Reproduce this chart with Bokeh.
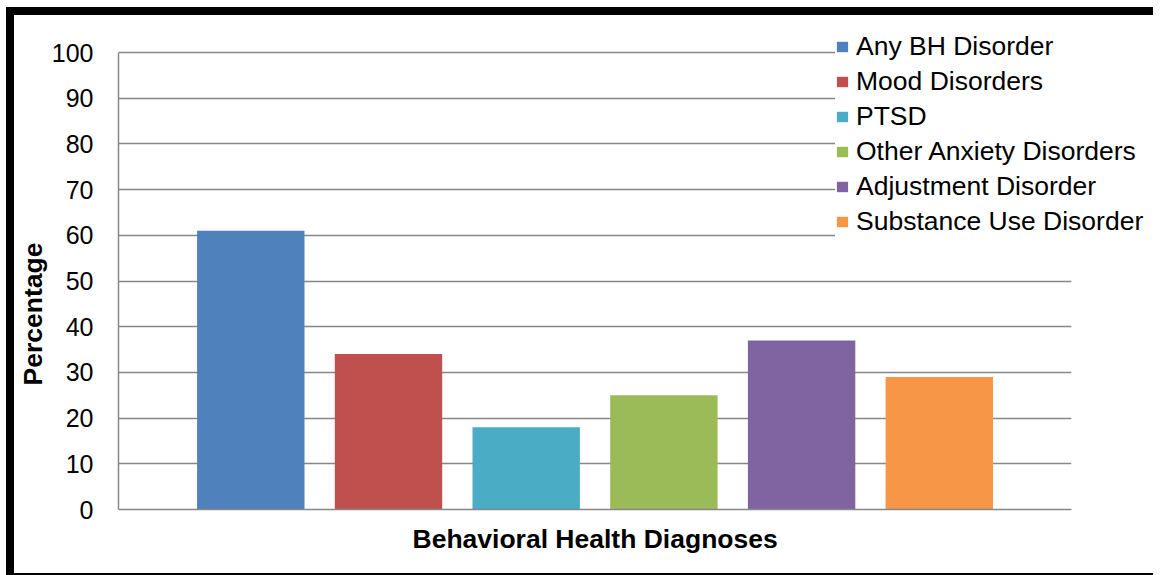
from bokeh.plotting import figure
from bokeh.models import (ColumnDataSource, Range1d, FixedTicker, Legend, LegendItem,
                          BoxAnnotation, Title)
from bokeh.embed import file_html
from bokeh.resources import INLINE

series = ["Any BH Disorder", "Mood Disorders", "PTSD", "Other Anxiety Disorders",
          "Adjustment Disorder", "Substance Use Disorder"]
values = [61, 34, 18, 25, 37, 29]
colors = ["#4F81BD", "#C0504D", "#4BACC6", "#9BBB59", "#8064A2", "#F79646"]
y_ticks = [0, 10, 20, 30, 40, 50, 60, 70, 80, 90, 100]
x_title = "Behavioral Health Diagnoses"
y_title = "Percentage"

FONT = "Liberation Sans"
GRAY = "#878787"

# layout (pixels, in picture coordinates)
OX, OY = 14, 15            # canvas origin
W, H = 1147, 568
FR_L, FR_R, FR_T, FR_B = 118, 1158, 15, 509
Y100 = 52                  # pixel row of the 100 gridline
X0, PX_X = 250.3, 137.7    # first bar centre and px per category step

py = (FR_B - Y100) / 100.0
y_end = (FR_B - FR_T) / py
x_start = (FR_L - X0) / PX_X
x_end = (FR_R - X0) / PX_X
x_last = len(series) - 1 + (1071 - 939) / PX_X

src = ColumnDataSource(dict(x=list(range(len(series))), top=values, color=colors, series=series))

p = figure(width=W, height=H, output_backend="svg", toolbar_location=None,
           x_range=Range1d(x_start, x_end), y_range=Range1d(0, y_end),
           min_border_left=FR_L - OX, min_border_top=FR_T - OY,
           min_border_bottom=H - (FR_B - OY), min_border_right=OX + W - FR_R)
p.styles = {"border-top": "8px solid black", "border-left": "8px solid black",
            "border-bottom": "2px solid black", "margin-top": "7px", "margin-left": "6px"}
p.outline_line_color = None
p.background_fill_color = "white"
p.border_fill_color = "white"

p.xgrid.grid_line_color = None
p.ygrid.grid_line_color = GRAY
p.ygrid.grid_line_width = 1.5
p.ygrid.ticker = FixedTicker(ticks=y_ticks[1:])

r = p.vbar(x="x", top="top", width=0.78, fill_color="color", line_color=None, source=src)

cover = BoxAnnotation(left=x_last, fill_color="white", fill_alpha=1.0, line_color=None,
                      level="underlay")
p.add_layout(cover)

ya = p.yaxis[0]
ya.ticker = FixedTicker(ticks=y_ticks)
ya.bounds = (0, 100)
ya.axis_line_color = GRAY
ya.axis_line_width = 1.5
ya.major_tick_line_color = None
ya.minor_tick_line_color = None
ya.major_tick_out = 0
ya.major_tick_in = 0
ya.major_label_standoff = 25
ya.major_label_text_font = FONT
ya.major_label_text_font_size = "25px"
ya.major_label_text_color = "black"

xa = p.xaxis[0]
xa.ticker = FixedTicker(ticks=[])
xa.bounds = (x_start, x_last)
xa.axis_line_color = GRAY
xa.axis_line_width = 1.5
xa.major_tick_line_color = None
xa.minor_tick_line_color = None
xa.major_label_text_font_size = "0px"

xtitle = Title(text=x_title, align="left", offset=412 - FR_L, standoff=25,
               text_font=FONT, text_font_size="26.5px", text_font_style="bold",
               text_color="black")
p.add_layout(xtitle, "below")

ytitle = Title(text=y_title, align="left", offset=FR_B - 385, standoff=2,
               text_font=FONT, text_font_size="26.5px", text_font_style="bold",
               text_color="black")
p.add_layout(ytitle, "left")

items = [LegendItem(label=s, renderers=[r], index=i) for i, s in enumerate(series)]
legend = Legend(items=items, location=(835 - FR_L, FR_B - 238), label_text_font=FONT,
                label_text_font_size="26.5px", label_text_color="black",
                glyph_width=14, glyph_height=13, label_standoff=7,
                label_height=34, spacing=1, padding=14, margin=0,
                border_line_color=None, background_fill_color="white",
                background_fill_alpha=1.0)
p.add_layout(legend, "center")

open("out.html", "w").write(file_html(p, INLINE))
